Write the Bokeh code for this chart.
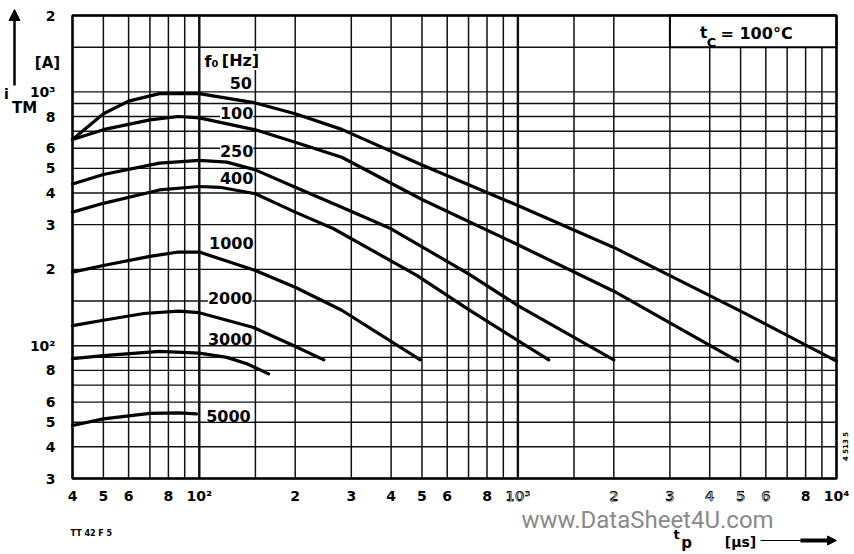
import math
from bokeh.plotting import figure
from bokeh.models import FixedTicker, Label, Arrow, NormalHead, Range1d
from bokeh.embed import file_html
from bokeh.resources import INLINE

# ---------------- data ----------------
f50_t = [40, 50, 60, 75, 100, 150, 200, 280, 500, 1000, 2000, 3000, 5000, 10000]
f50_i = [650, 820, 920, 985, 985, 905, 820, 712, 515, 357, 244, 189, 137, 87]
f100_t = [40, 50, 70, 86, 100, 150, 200, 280, 500, 1000, 2000, 3000, 4900]
f100_i = [650, 710, 776, 800, 790, 709, 634, 553, 377, 250, 164, 123, 87]
f250_t = [40, 50, 75, 100, 122, 150, 200, 280, 400, 700, 1000, 2000]
f250_i = [434, 473, 524, 537, 529, 493, 421, 351, 289, 192, 144, 88]
f400_t = [40, 50, 75, 100, 116, 150, 200, 264, 483, 693, 1250]
f400_i = [336, 364, 411, 424, 421, 397, 336, 289, 189, 140, 88]
f1000_t = [40, 50, 70, 86, 100, 150, 200, 280, 494]
f1000_i = [195, 207, 225, 234, 234, 198, 170, 138, 88]
f2000_t = [40, 50, 67, 86, 100, 148, 198, 246]
f2000_i = [120, 126, 134, 137, 135, 118, 100, 88]
f3000_t = [40, 50, 75, 100, 122, 141, 165]
f3000_i = [89, 91.5, 95, 93.5, 90, 85, 77.5]
f5000_t = [40, 50, 70, 86, 98]
f5000_i = [48.5, 51.5, 54.2, 54.4, 53.9]

series = [("50", f50_t, f50_i), ("100", f100_t, f100_i), ("250", f250_t, f250_i),
          ("400", f400_t, f400_i), ("1000", f1000_t, f1000_i), ("2000", f2000_t, f2000_i),
          ("3000", f3000_t, f3000_i), ("5000", f5000_t, f5000_i)]

chart_t = (40, 10000)      # t_p axis limits [µs]
chart_i = (30, 2000)       # i_TM axis limits [A]
grid_x = [40, 50, 60, 70, 80, 90, 100, 150, 200, 300, 400, 500, 600, 700, 800, 900,
          1000, 1500, 2000, 3000, 4000, 5000, 6000, 7000, 8000, 9000, 10000]
grid_y = [30, 40, 50, 60, 70, 80, 90, 100, 150, 200, 300, 400, 500, 600, 700, 800, 900,
          1000, 1500, 2000]
decades_x = [100, 1000]
x_tick_labels = {40: "4", 50: "5", 60: "6", 80: "8", 100: "10²", 200: "2", 300: "3",
                 400: "4", 500: "5", 600: "6", 800: "8", 1000: "10³", 2000: "2",
                 3000: "3", 4000: "4", 5000: "5", 6000: "6", 8000: "8", 10000: "10⁴"}
x_gray_ticks = [1000, 2000, 3000, 4000, 5000, 6000]
y_tick_labels = {2000: "2", 1000: "10³", 800: "8", 600: "6", 500: "5", 400: "4",
                 300: "3", 200: "2", 100: "10²", 80: "8", 60: "6", 50: "5", 40: "4",
                 30: "3"}

# curve label anchor points (data units)
curve_label_t = [135, 131, 131, 131, 126, 125, 125, 123.5]
curve_label_i = [1089, 826, 583, 458, 253, 153.6, 106.3, 53.1]

box_t = (3000, 10000)
box_i = (1500, 2000)

# ---------------- canvas geometry ----------------
W, H = 852, 552
PL, PR, PT, PB = 72, 836, 15, 478   # chart area in canvas pixels
LX0, LX1 = math.log10(chart_t[0]), math.log10(chart_t[1])
LY0, LY1 = math.log10(chart_i[0]), math.log10(chart_i[1])


def dx(px):
    return 10 ** (LX0 + (px - PL) / (PR - PL) * (LX1 - LX0))


def dy(py):
    return 10 ** (LY1 - (py - PT) / (PB - PT) * (LY1 - LY0))


FONT = "DejaVu Sans"

p = figure(x_axis_type="log", y_axis_type="log",
           x_range=Range1d(dx(0), dx(W)), y_range=Range1d(dy(H), dy(0)),
           width=W, height=H, output_backend="svg", toolbar_location=None,
           min_border_left=0, min_border_right=0, min_border_top=0, min_border_bottom=0)
p.background_fill_color = "white"
p.border_fill_color = "white"
p.outline_line_color = None
p.xgrid.visible = False
p.ygrid.visible = False

# axes, pinned to the chart edges
p.xaxis.fixed_location = chart_i[0]
p.yaxis.fixed_location = chart_t[0]
for ax, ticks, labels, standoff in ((p.xaxis, grid_x, x_tick_labels, 9),
                                    (p.yaxis, grid_y, y_tick_labels, 17)):
    ax.ticker = FixedTicker(ticks=ticks)
    ov = {}
    for t in ticks:
        lab = labels.get(t, "")
        if ax is p.xaxis and t in x_gray_ticks:
            lab = ""
        ov[t] = lab
    ax.major_label_overrides = ov
    ax.axis_line_color = None
    ax.major_tick_line_color = None
    ax.minor_tick_line_color = None
    ax.major_tick_out = 0
    ax.major_tick_in = 0
    ax.major_label_standoff = standoff
    ax.major_label_text_font = FONT
    ax.major_label_text_font_style = "bold"
    ax.major_label_text_font_size = "14px"
    ax.major_label_text_color = "black"

# grid lines
p.segment(x0=grid_x, y0=[chart_i[0]] * len(grid_x), x1=grid_x, y1=[chart_i[1]] * len(grid_x),
          line_color="#111111", line_width=1.5)
p.segment(x0=[chart_t[0]] * len(grid_y), y0=grid_y, x1=[chart_t[1]] * len(grid_y), y1=grid_y,
          line_color="#111111", line_width=1.4)
p.segment(x0=decades_x, y0=[chart_i[0]] * 2, x1=decades_x, y1=[chart_i[1]] * 2,
          line_color="#111111", line_width=2.4)

# curves
for name, t, i in series:
    p.line(t, i, line_color="black", line_width=3.2, line_join="round", line_cap="round")

# t_C box and chart border
p.quad(left=[box_t[0]], right=[box_t[1]], bottom=[box_i[0]], top=[box_i[1]],
       fill_color="white", line_color="black", line_width=2)
p.quad(left=[chart_t[0]], right=[chart_t[1]], bottom=[chart_i[0]], top=[chart_i[1]],
       fill_color=None, line_color="black", line_width=2.5)


def lab(x, y, text, size="16px", align="center", baseline="middle", color="black",
        bg=None, style="bold", font=FONT, angle=0):
    L = Label(x=x, y=y, text=text, text_font=font, text_font_style=style,
              text_font_size=size, text_align=align, text_baseline=baseline,
              text_color=color, angle=angle)
    if bg:
        L.background_fill_color = bg
    p.add_layout(L)


# curve labels
for (name, _, _), lt, li in zip(series, curve_label_t, curve_label_i):
    lab(lt, li, name, bg="white")
lab(dx(211), dy(61), "f₀", size="16px", bg="white")
lab(dx(240), dy(60), "[Hz]", size="16px", bg="white")

# box text
lab(dx(703), dy(32), "t", size="15px")
lab(dx(711), dy(42), "C", size="13px")
lab(dx(720), dy(33), "=  100°C", size="16px", align="left")

# y axis title
lab(dx(6), dy(93), "i", size="14px")
lab(dx(24), dy(107), "TM", size="15px")
lab(dx(47), dy(62), "[A]", size="15px")
p.add_layout(Arrow(end=NormalHead(size=11, fill_color="black", line_color="black"),
                   x_start=dx(14), y_start=dy(85), x_end=dx(14), y_end=dy(9),
                   line_color="black", line_width=2.5))

# x axis title
lab(dx(676), dy(534), "t", size="13px")
lab(dx(686), dy(542), "p", size="15px")
lab(dx(740), dy(541), "[μs]", size="14px")
p.add_layout(Arrow(end=None, x_start=dx(760), y_start=dy(540), x_end=dx(806),
                   y_end=dy(540), line_color="black", line_width=1.2))
p.add_layout(Arrow(end=NormalHead(size=9, fill_color="black", line_color="black"),
                   x_start=dx(800), y_start=dy(540), x_end=dx(836), y_end=dy(540),
                   line_color="black", line_width=4))

# watermark and greyed tick labels
lab(dx(521), dy(519), "www.DataSheet4U.com", size="24px", align="left",
    baseline="alphabetic", color="#8a8a8a", style="normal", font="Roboto")
for t in x_gray_ticks:
    lab(t, dy(496), x_tick_labels[t], size="14px", color="#a0a0a0", style="normal")

# small notes
lab(dx(70), dy(533), "TT 42 F 5", size="8px", align="left")
lab(dx(845), dy(446), "4 513 5", size="7px", angle=math.pi / 2)

open("out.html", "w").write(file_html(p, INLINE))
